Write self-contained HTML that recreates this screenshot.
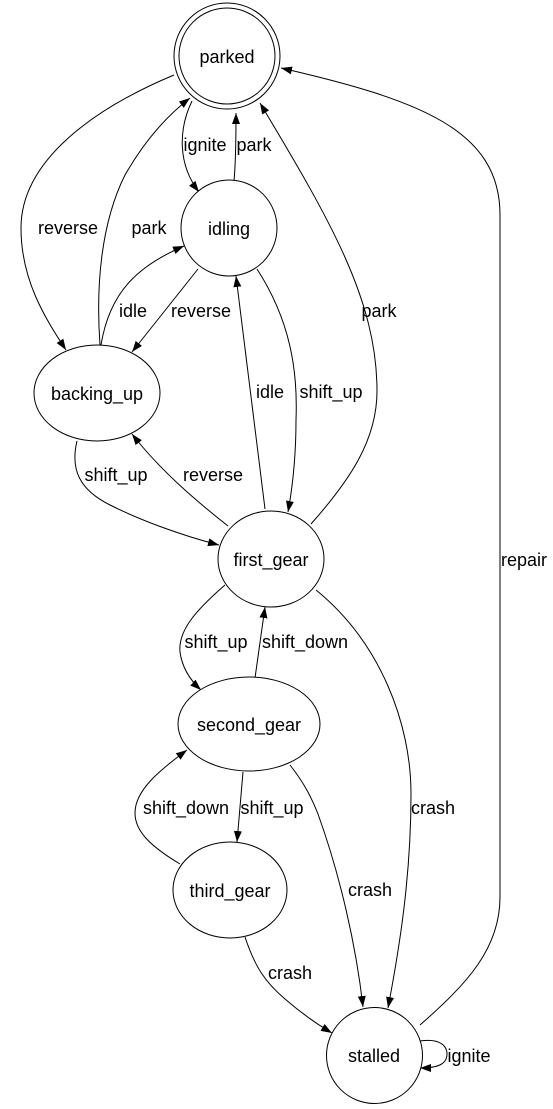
<!DOCTYPE html>
<html><head><meta charset="utf-8"><style>
html,body{margin:0;padding:0;background:#fff;}
svg{display:block;}
text{font-family:"Liberation Sans",Arial,sans-serif;font-size:18px;fill:#000;}
</style></head><body>
<svg width="553" height="1109" viewBox="0 0 553 1109" xmlns="http://www.w3.org/2000/svg">
<defs>
<marker id="a" markerUnits="userSpaceOnUse" markerWidth="12" markerHeight="9" refX="11" refY="4" orient="auto">
<path d="M0,0 L11,4 L0,8 z" fill="#000"/>
</marker>
</defs>
<g fill="none" stroke="#000" stroke-width="1" marker-end="url(#a)">
<path d="M174,75 C95,108 21,160 21,228 C21,280 45,318 66,350"/>
<path d="M100,345 C96,290 100,225 125,175 C145,140 168,115 190,98"/>
<path d="M192,101 C178,130 178,165 199,192"/>
<path d="M234,181 C236,160 236,135 236,113"/>
<path d="M101,345 C110,290 140,265 184,246"/>
<path d="M198,269 L132,352"/>
<path d="M265,509 L236,276"/>
<path d="M257,269 C290,320 298,370 296,420 C296,460 292,490 288,512"/>
<path d="M311,524 C350,480 377,440 377,391 C377,300 330,220 260,103"/>
<path d="M420,1025 C468,983 500,948 500,897 L500,215 C500,130 420,100 281,68"/>
<path d="M77,441 C70,470 80,490 110,505 C140,520 180,535 219,545"/>
<path d="M228,526 C195,500 160,470 132,434"/>
<path d="M225,585 C195,611 178,631 180,652 C182,667 190,680 201,690"/>
<path d="M255,678 L265,607"/>
<path d="M316,590 C380,642 411,723 411,794 C411,875 400,945 388,1008"/>
<path d="M290,765 C305,784 312,799 318,814 C340,875 356,945 363,1007"/>
<path d="M243,772 L237,842"/>
<path d="M180,864 C150,846 135,831 135,813 C135,790 160,770 187,750"/>
<path d="M245,937 C255,967 265,982 285,999 C300,1012 315,1023 332,1033"/>
<path d="M420,1041 C440,1038 447,1046 447,1054 C447,1064 438,1068 420,1068"/>
</g>
<g fill="#fff" stroke="#000" stroke-width="1">
<circle cx="227" cy="56" r="53"/>
<circle cx="227" cy="56" r="48"/>
<circle cx="229" cy="228" r="48"/>
<ellipse cx="97" cy="393" rx="63" ry="48"/>
<ellipse cx="271" cy="559" rx="53" ry="48"/>
<ellipse cx="249" cy="724" rx="71" ry="47"/>
<ellipse cx="230" cy="890" rx="57" ry="48"/>
<ellipse cx="374.5" cy="1055.5" rx="48" ry="48"/>
</g>
<g text-anchor="middle">
<text x="227" y="63">parked</text>
<text x="229" y="235">idling</text>
<text x="97" y="400">backing_up</text>
<text x="271" y="566">first_gear</text>
<text x="249" y="731">second_gear</text>
<text x="230" y="897">third_gear</text>
<text x="374" y="1062">stalled</text>
<text x="68" y="234">reverse</text>
<text x="149" y="234">park</text>
<text x="205" y="151">ignite</text>
<text x="254" y="151">park</text>
<text x="133" y="317">idle</text>
<text x="201" y="317">reverse</text>
<text x="270" y="398">idle</text>
<text x="331" y="398">shift_up</text>
<text x="379" y="317">park</text>
<text x="524" y="566">repair</text>
<text x="116" y="481">shift_up</text>
<text x="213" y="481">reverse</text>
<text x="216" y="648">shift_up</text>
<text x="305" y="648">shift_down</text>
<text x="433" y="814">crash</text>
<text x="370" y="896">crash</text>
<text x="272" y="814">shift_up</text>
<text x="186" y="814">shift_down</text>
<text x="290" y="979">crash</text>
<text x="469" y="1062">ignite</text>
</g>
</svg>
</body></html>
